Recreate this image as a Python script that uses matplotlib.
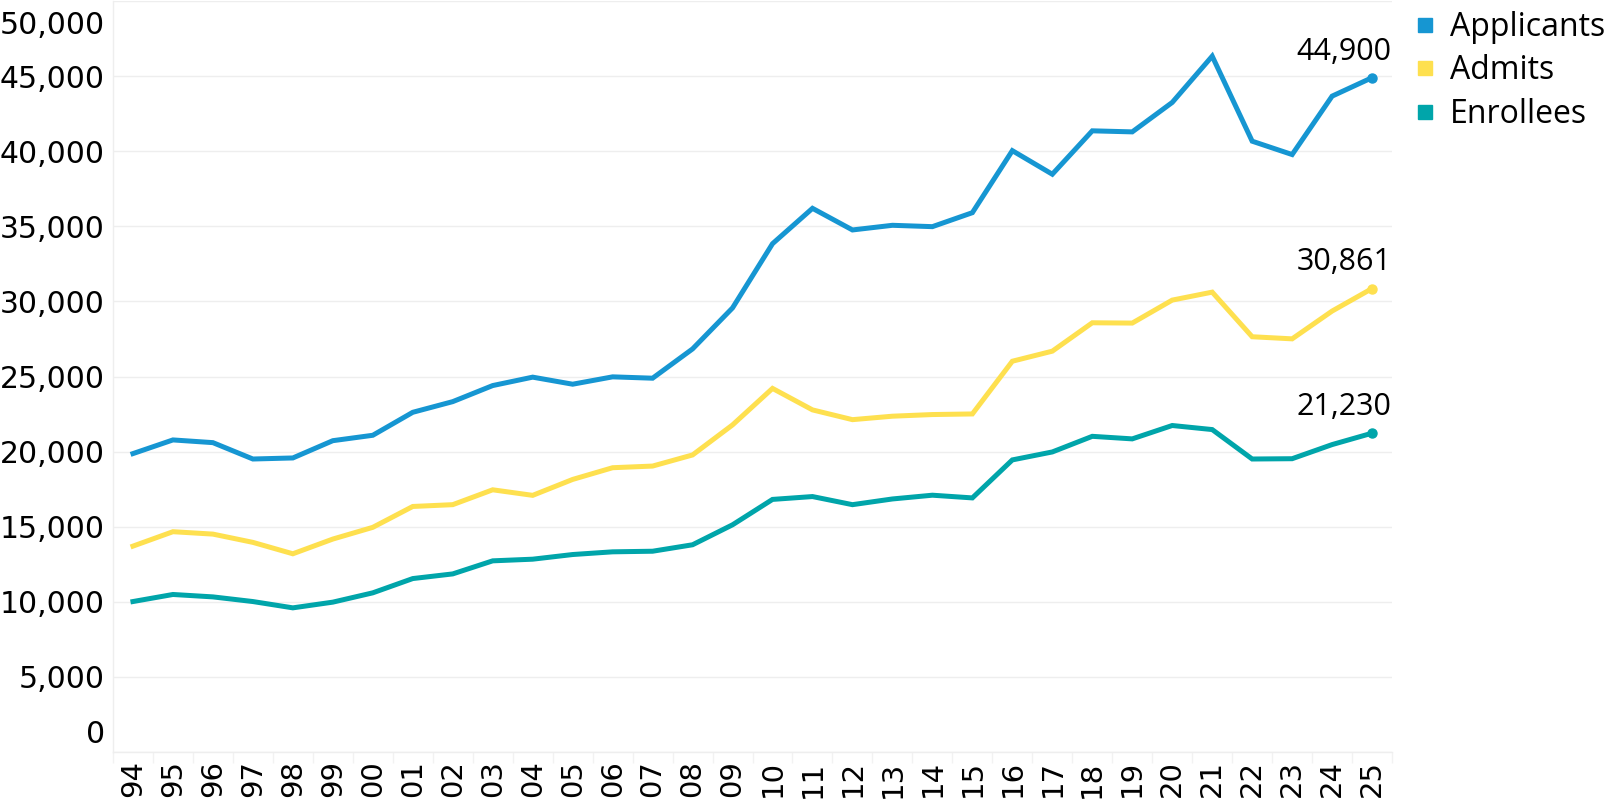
import numpy as np
import matplotlib.pyplot as plt
from matplotlib.transforms import ScaledTranslation

# years (two-digit labels), 1994 - 2025
years = ['94', '95', '96', '97', '98', '99', '00', '01', '02', '03', '04',
         '05', '06', '07', '08', '09', '10', '11', '12', '13', '14', '15',
         '16', '17', '18', '19', '20', '21', '22', '23', '24', '25']

applicants = [19870, 20780, 20600, 19510, 19580, 20730, 21090, 22620, 23330,
              24400, 24960, 24490, 24980, 24890, 26840, 29570, 33845, 36200,
              34760, 35070, 34980, 35910, 40040, 38470, 41360, 41290, 43250,
              46330, 40670, 39780, 43670, 44900]
admits = [13710, 14670, 14510, 13960, 13200, 14180, 14960, 16350, 16470,
          17460, 17090, 18150, 18930, 19040, 19780, 21780, 24210, 22780,
          22130, 22360, 22470, 22510, 26020, 26690, 28580, 28560, 30090,
          30620, 27650, 27510, 29360, 30861]
enrollees = [10020, 10490, 10330, 10020, 9600, 9980, 10600, 11550, 11860,
             12730, 12840, 13150, 13330, 13370, 13800, 15130, 16820, 17010,
             16470, 16850, 17100, 16920, 19450, 19980, 21020, 20850, 21740,
             21470, 19510, 19530, 20470, 21230]

series_names = ['Applicants', 'Admits', 'Enrollees']
colors = ['#1696d2', '#fee04f', '#00a5aa']
yticks = [0, 5000, 10000, 15000, 20000, 25000, 30000, 35000, 40000, 45000, 50000]

fig = plt.figure(figsize=(16.14, 8.11), dpi=100)
ax = fig.add_axes([0.070, 0.0727, 0.7925, 0.926])

x = np.arange(len(years))
for vals, name, c in zip([applicants, admits, enrollees], series_names, colors):
    ax.plot(x, vals, color=c, lw=3.6, solid_joinstyle='miter', label=name)
    ax.plot(x[-1], vals[-1], 'o', color=c, ms=6.5, zorder=5)
    ax.annotate(f'{vals[-1]:,}', (x[-1], vals[-1]), xytext=(14, 8),
                textcoords='offset points', ha='right', va='bottom',
                fontsize=22, family='Open Sans', color='black')

ax.set_xlim(-0.5, len(years) - 0.5)
ax.set_ylim(0, 50000)
ax.set_xticks(x)
ax.set_xticklabels(years, rotation=90, fontsize=21, family='DejaVu Sans')
ax.set_xticks(np.arange(-0.5, len(years)), minor=True)
ax.tick_params(axis='x', which='major', length=0, pad=6)
ax.tick_params(axis='x', which='minor', length=8, color='#f2f2f2', width=1)
ax.set_yticks(yticks)
ax.set_yticklabels([f'{v:,}' for v in yticks], fontsize=21.5, family='DejaVu Sans')
ax.tick_params(axis='y', length=0, pad=6)

# keep the end labels inside the plot area, like the original
labs = ax.get_yticklabels()
labs[0].set_transform(labs[0].get_transform() + ScaledTranslation(0, 21 / 100, fig.dpi_scale_trans))
labs[-1].set_transform(labs[-1].get_transform() + ScaledTranslation(0, -21 / 100, fig.dpi_scale_trans))

ax.grid(axis='y', color='#eeeeee', lw=1)
ax.set_axisbelow(True)
for s in ['top', 'right']:
    ax.spines[s].set_visible(False)
for s in ['left', 'bottom']:
    ax.spines[s].set_color('#eeeeee')
    ax.spines[s].set_linewidth(1)

# legend with square markers
handles = [plt.Line2D([], [], marker='s', ls='', color=c, ms=10) for c in colors]
leg = fig.legend(handles, series_names, loc='upper left', bbox_to_anchor=(0.855, 1.022),
                 frameon=False, handletextpad=0.3, labelspacing=0.33, handlelength=1.0,
                 prop={'family': 'Open Sans', 'size': 23})

fig.savefig('out.png', dpi=100)
